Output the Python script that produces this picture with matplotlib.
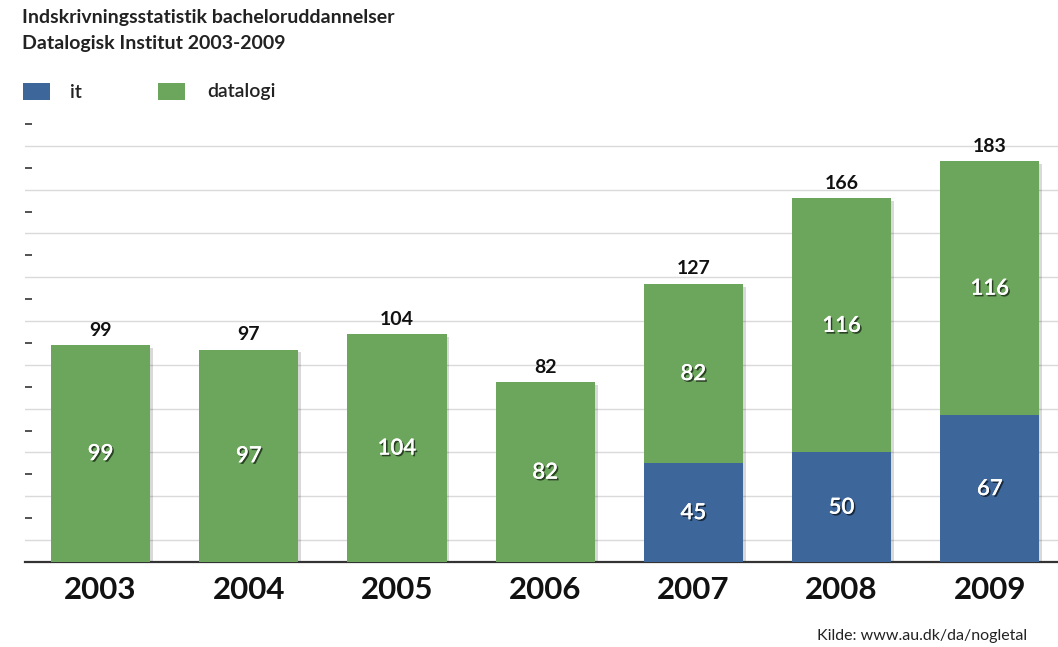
import matplotlib
matplotlib.use("Agg")
import matplotlib.pyplot as plt
import matplotlib.patheffects as pe
from matplotlib.patches import Rectangle
import numpy as np

years = ["2003", "2004", "2005", "2006", "2007", "2008", "2009"]
it_vals = [0, 0, 0, 0, 45, 50, 67]
datalogi_vals = [99, 97, 104, 82, 82, 116, 116]
totals = [99, 97, 104, 82, 127, 166, 183]

title_lines = ["Indskrivningsstatistik bacheloruddannelser", "Datalogisk Institut 2003-2009"]
source = "Kilde: www.au.dk/da/nogletal"

BLUE = "#3d679b"
GREEN = "#6ba65c"
FONT = ["Lato", "DejaVu Sans"]

W, H = 1058, 647
fig = plt.figure(figsize=(W / 100, H / 100), dpi=100)
ax = fig.add_axes([25 / W, 85 / H, 1033 / W, 449 / H])

x = np.arange(len(years))
width = 0.67
# soft shadow behind whole stacked bars
ax.bar(x, totals, width, color="none", zorder=2,
       path_effects=[pe.withSimplePatchShadow(offset=(2, -2), shadow_rgbFace="k", alpha=0.15)])
ax.bar(x, it_vals, width, color=BLUE, zorder=3)
ax.bar(x, datalogi_vals, width, bottom=it_vals, color=GREEN, zorder=3)

ax.set_xlim(-0.51, 6.46)
ax.set_ylim(0, 205)

ax.set_yticks(np.arange(0, 201, 20))
ax.set_yticks(np.arange(10, 200, 20), minor=True)
ax.tick_params(axis="y", which="major", direction="in", length=5, width=1.3, color="#444444", labelleft=False, pad=0)
ax.tick_params(axis="y", which="minor", length=0)
ax.grid(axis="y", which="minor", color="#dadada", linewidth=1.0, zorder=0)
ax.set_axisbelow(True)

for s in ["top", "right", "left"]:
    ax.spines[s].set_visible(False)
ax.spines["bottom"].set_color("#333333")
ax.spines["bottom"].set_linewidth(1.6)

ax.set_xticks(x)
ax.set_xticklabels(years, fontsize=22.5, fontweight="bold", family=FONT, color="#111111")
ax.tick_params(axis="x", length=0, pad=10)

txt_shadow = [pe.withSimplePatchShadow(offset=(1.2, -1.2), shadow_rgbFace="#000000", alpha=0.6), pe.Normal()]
for i in range(len(years)):
    ax.text(x[i], totals[i] + 3, str(totals[i]), ha="center", va="bottom", fontsize=14,
            fontweight="bold", family=FONT, color="#111111")
    ax.text(x[i], it_vals[i] + datalogi_vals[i] / 2, str(datalogi_vals[i]), ha="center", va="center",
            fontsize=16, fontweight="semibold", family=FONT, color="white", path_effects=txt_shadow, zorder=5)
    if it_vals[i] > 0:
        ax.text(x[i], it_vals[i] / 2, str(it_vals[i]), ha="center", va="center",
                fontsize=16, fontweight="semibold", family=FONT, color="white", path_effects=txt_shadow, zorder=5)

# titles
fig.text(22 / W, 1 - 18 / H, title_lines[0], ha="left", va="center", fontsize=14,
         family=FONT, fontweight="bold", color="#222222")
fig.text(22 / W, 1 - 43 / H, title_lines[1], ha="left", va="center", fontsize=14,
         family=FONT, fontweight="bold", color="#222222")

# legend
fig.patches.append(Rectangle((23 / W, 1 - 100 / H), 27 / W, 17 / H, transform=fig.transFigure,
                             facecolor=BLUE, edgecolor="none"))
fig.text(70 / W, 1 - 92 / H, "it", ha="left", va="center", fontsize=14, family=FONT,
         fontweight="semibold", color="#222222")
fig.patches.append(Rectangle((158 / W, 1 - 100 / H), 27 / W, 17 / H, transform=fig.transFigure,
                             facecolor=GREEN, edgecolor="none"))
fig.text(207 / W, 1 - 92 / H, "datalogi", ha="left", va="center", fontsize=14, family=FONT,
         fontweight="semibold", color="#222222")

fig.text(1027 / W, 1 - 636 / H, source, ha="right", va="center", fontsize=11.5, family=FONT, color="#222222")

fig.savefig("out.png", dpi=100)
